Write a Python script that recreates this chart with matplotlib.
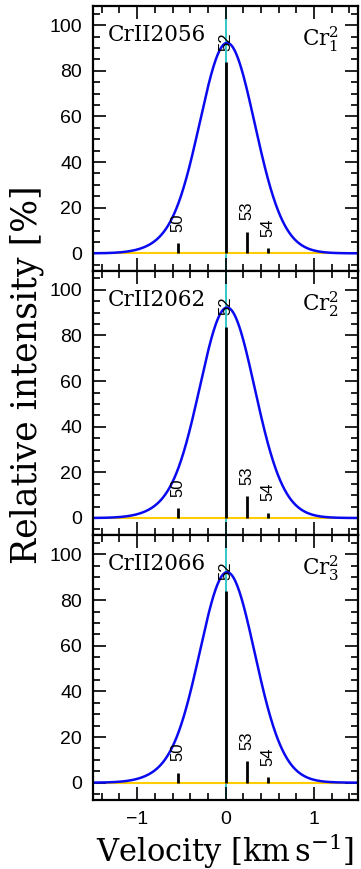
import numpy as np
import matplotlib
matplotlib.use('Agg')
import matplotlib.pyplot as plt
from matplotlib.ticker import MultipleLocator

# Cr isotopes: mass numbers, velocity shifts (km/s) and abundances (%)
isotopes = ['50', '52', '53', '54']
shifts = [-0.54, 0.0, 0.245, 0.485]
abundances = [4.345, 83.789, 9.501, 2.365]
sigma = 0.3

transitions = ['CrII2056', 'CrII2062', 'CrII2066']
tags = [r'$\mathrm{Cr}^2_1$', r'$\mathrm{Cr}^2_2$', r'$\mathrm{Cr}^2_3$']

serif = 'DejaVu Serif'
sans = 'Liberation Sans'
plt.rcParams['mathtext.fontset'] = 'dejavuserif'

fig = plt.figure(figsize=(3.61, 8.69), dpi=100)
left, right = 93 / 361, 358 / 361
top_px, bot_px = 6, 800
h = (bot_px - top_px) / 3

v = np.linspace(-1.5, 1.5, 600)
profile = np.zeros_like(v)
for x0, a in zip(shifts, abundances):
    profile += a * np.exp(-(v - x0) ** 2 / (2 * sigma ** 2))

for i, (name, tag) in enumerate(zip(transitions, tags)):
    y0 = 1 - (top_px + (i + 1) * h) / 869
    ax = fig.add_axes([left, y0, right - left, h / 869])

    ax.axvline(0, color='#20c4c4', lw=1.3, zorder=1)
    ax.axhline(0, color='#ffcc00', lw=1.5, zorder=1)
    ax.plot(v, profile, color='#0a0af0', lw=1.8, zorder=2)
    ax.vlines(shifts, 0, abundances, color='black', lw=2.0, zorder=3)
    for x0, a, lab in zip(shifts, abundances, isotopes):
        ax.text(x0, a + 5.0, lab, rotation=90, ha='center', va='bottom',
                fontsize=12, family=sans, zorder=4)

    ax.text(0.055, 0.89, name, transform=ax.transAxes, fontsize=15.5,
            family=serif, ha='left', va='center')
    ax.text(0.93, 0.875, tag, transform=ax.transAxes, fontsize=15.5,
            family=serif, ha='right', va='center')

    ax.set_xlim(-1.5, 1.5)
    ax.set_ylim(-7.6, 108.4)
    ax.xaxis.set_major_locator(MultipleLocator(1))
    ax.xaxis.set_minor_locator(MultipleLocator(0.2))
    ax.yaxis.set_major_locator(MultipleLocator(20))
    ax.yaxis.set_minor_locator(MultipleLocator(5))
    ax.tick_params(which='both', direction='in', top=True, right=True, width=1.2)
    ax.tick_params(which='major', length=9.5, pad=8)
    ax.tick_params(which='minor', length=5)
    for s in ax.spines.values():
        s.set_linewidth(1.6)
    for t in ax.get_yticklabels():
        t.set_family(sans)
        t.set_fontsize(14)
    if i < 2:
        ax.set_xticklabels([])
    else:
        for t in ax.get_xticklabels():
            t.set_family(sans)
            t.set_fontsize(14)
        ax.set_xlabel(r'Velocity [km$\,$s$^{-1}$]', family=serif, fontsize=22,
                      labelpad=2)

fig.text(0.075, 1 - 375 / 869, 'Relative intensity [%]', rotation=90,
         family=serif, fontsize=25, ha='center', va='center')

fig.savefig('out.png', dpi=100)
